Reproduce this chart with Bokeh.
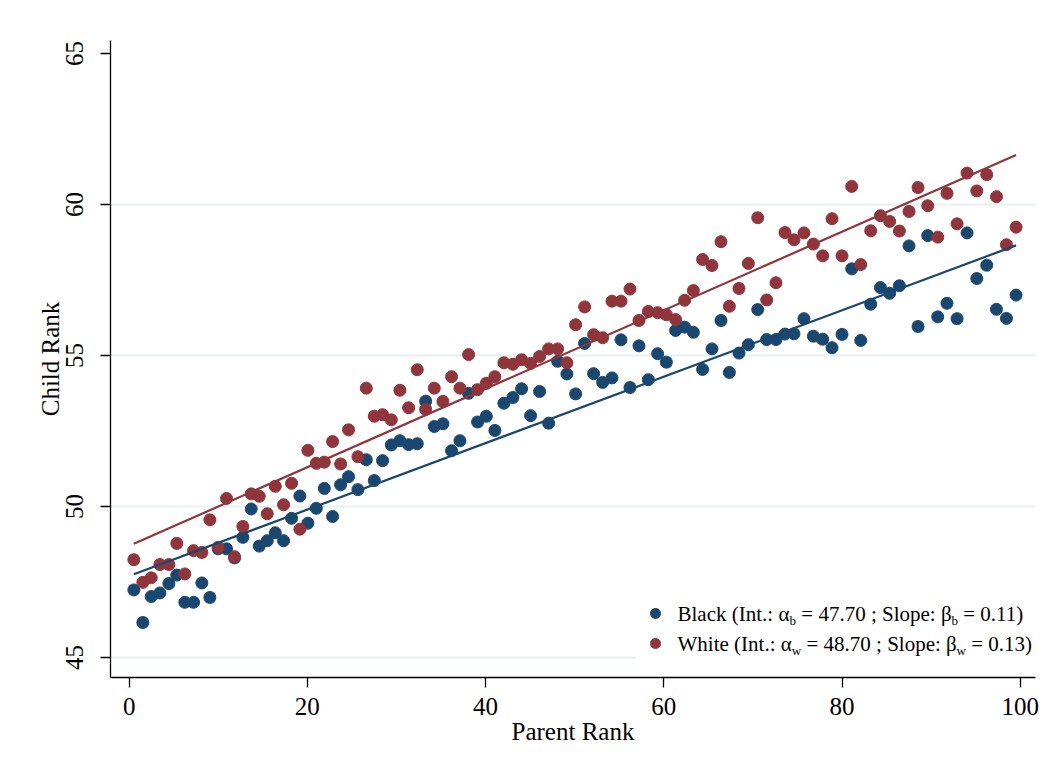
import numpy as np
from bokeh.plotting import figure
from bokeh.models import FixedTicker, Range1d, Label, BoxAnnotation
from bokeh.embed import file_html
from bokeh.resources import INLINE

# Parent rank (x) for each of the 100 bins
parent_rank = [
    0.53, 1.54, 2.48, 3.45, 4.46, 5.35, 6.25, 7.23, 8.16, 9.06,
    10.00, 10.93, 11.83, 12.76, 13.70, 14.60, 15.50, 16.40, 17.33, 18.23,
    19.16, 20.06, 21.00, 21.90, 22.83, 23.73, 24.62, 25.67, 26.61, 27.51,
    28.44, 29.42, 30.38, 31.36, 32.33, 33.27, 34.24, 35.21, 36.18, 37.12,
    38.09, 39.10, 40.08, 41.04, 42.05, 43.06, 44.04, 45.05, 46.06, 47.07,
    48.08, 49.12, 50.10, 51.11, 52.12, 53.13, 54.18, 55.19, 56.20, 57.21,
    58.26, 59.30, 60.28, 61.32, 62.33, 63.31, 64.35, 65.40, 66.41, 67.35,
    68.43, 69.48, 70.53, 71.54, 72.58, 73.59, 74.60, 75.72, 76.78, 77.82,
    78.87, 79.99, 81.08, 82.09, 83.21, 84.30, 85.34, 86.43, 87.51, 88.52,
    89.61, 90.73, 91.77, 92.90, 94.02, 95.11, 96.23, 97.32, 98.44, 99.52,
]

# Mean child rank, Black children
child_black = [
    47.24, 46.16, 47.02, 47.14, 47.45, 47.73, 46.83, 46.83, 47.47, 46.99,
    48.60, 48.60, 48.30, 48.98, 49.92, 48.69, 48.87, 49.13, 48.87, 49.61,
    50.35, 49.45, 49.94, 50.60, 49.67, 50.72, 50.99, 50.56, 51.55, 50.86,
    51.52, 52.04, 52.18, 52.05, 52.08, 53.49, 52.65, 52.74, 51.85, 52.18,
    53.75, 52.80, 52.99, 52.52, 53.42, 53.61, 53.90, 53.01, 53.81, 52.76,
    54.81, 54.39, 53.73, 55.40, 54.40, 54.11, 54.26, 55.52, 53.94, 55.32,
    54.20, 55.06, 54.78, 55.83, 55.94, 55.77, 54.54, 55.22, 56.16, 54.44,
    55.08, 55.36, 56.52, 55.53, 55.53, 55.71, 55.72, 56.22, 55.64, 55.54,
    55.26, 55.70, 57.87, 55.50, 56.70, 57.25, 57.06, 57.31, 58.63, 55.96,
    58.97, 56.28, 56.73, 56.22, 59.06, 57.55, 57.99, 56.53, 56.23, 57.00,
]

# Mean child rank, White children
child_white = [
    48.24, 47.49, 47.64, 48.08, 48.08, 48.78, 47.77, 48.54, 48.48, 49.56,
    48.65, 50.27, 48.34, 49.34, 50.42, 50.34, 49.76, 50.67, 50.06, 50.77,
    49.25, 51.86, 51.43, 51.47, 52.15, 51.41, 52.54, 51.65, 53.92, 52.99,
    53.04, 52.87, 53.85, 53.27, 54.53, 53.22, 53.92, 53.48, 54.30, 53.92,
    55.03, 53.87, 54.08, 54.30, 54.76, 54.71, 54.86, 54.74, 54.97, 55.22,
    55.22, 54.76, 56.02, 56.61, 55.69, 55.59, 56.80, 56.80, 57.20, 56.16,
    56.46, 56.42, 56.35, 56.19, 56.83, 57.15, 58.18, 57.98, 58.77, 56.63,
    57.22, 58.05, 59.56, 56.84, 57.41, 59.07, 58.83, 59.06, 58.69, 58.30,
    59.53, 58.30, 60.60, 58.01, 59.13, 59.63, 59.44, 59.12, 59.77, 60.56,
    59.96, 58.92, 60.37, 59.36, 61.04, 60.45, 60.99, 60.26, 58.67, 59.25,
]

# Linear fits (intercept, slope)
fit_black = (47.70, 0.11)
fit_white = (48.70, 0.13)

x_ticks = [0, 20, 40, 60, 80, 100]
y_ticks = [45, 50, 55, 60, 65]
grid_ticks = [45, 50, 55, 60]

NAVY = "#1a476f"
MAROON = "#90353b"
GRID = "#e8f0f1"
FONT = "Liberation Serif"

W, H = 1057, 772
BL, BR, BT, BB = 110, 22, 40, 95
X0, X1 = -2.09, 101.7
Y0, Y1 = 44.34, 65.43
xppu = (W - BL - BR) / (X1 - X0)
yppu = (H - BT - BB) / (Y1 - Y0)

p = figure(
    width=W, height=H,
    x_range=Range1d(X0, X1), y_range=Range1d(Y0, Y1),
    min_border_left=BL, min_border_right=BR,
    min_border_top=BT, min_border_bottom=BB,
    output_backend="svg", toolbar_location=None,
    background_fill_color="white", border_fill_color="white",
)
p.outline_line_color = None

# grid: horizontal only
p.xgrid.visible = False
p.ygrid.ticker = FixedTicker(ticks=grid_ticks)
p.ygrid.grid_line_color = GRID
p.ygrid.grid_line_width = 2

# axes
p.xaxis.ticker = FixedTicker(ticks=x_ticks)
p.yaxis.ticker = FixedTicker(ticks=y_ticks)
for ax in (p.xaxis[0], p.yaxis[0]):
    ax.axis_line_color = "black"
    ax.axis_line_width = 1.3
    ax.major_tick_line_color = "black"
    ax.major_tick_line_width = 1.3
    ax.major_tick_out = 10
    ax.major_tick_in = 0
    ax.minor_tick_line_color = None
    ax.major_label_text_font = FONT
    ax.major_label_text_font_size = "25px"
    ax.major_label_text_color = "black"
    ax.axis_label_text_font = FONT
    ax.axis_label_text_font_size = "25px"
    ax.axis_label_text_font_style = "normal"
    ax.axis_label_text_color = "black"
p.xaxis.axis_label = "Parent Rank"
p.yaxis.axis_label = "Child Rank"
p.yaxis.major_label_orientation = "vertical"
p.xaxis.major_label_standoff = 10
p.yaxis.major_label_standoff = 17
p.xaxis.axis_label_standoff = 0
p.yaxis.axis_label_standoff = 0

# legend panel background (drawn beneath the points, above the grid)
def dx(px):
    return X0 + (px - BL) / xppu

def dy(py):
    return Y1 - (py - BT) / yppu

box = BoxAnnotation(left=dx(635), right=X1, bottom=Y0, top=dy(588),
                    fill_color="white", fill_alpha=1.0, line_color=None,
                    level="underlay")
p.add_layout(box)

# scatter points
p.scatter(parent_rank, child_black, size=12, color=NAVY, marker="circle")
p.scatter(parent_rank, child_white, size=12, color=MAROON, marker="circle")

# fitted lines over the observed parent-rank span
xs = np.array([min(parent_rank), max(parent_rank)])
for (a, b), c in ((fit_black, NAVY), (fit_white, MAROON)):
    p.line(xs, a + b * xs, line_color=c, line_width=2.2)

# legend entries: text pieces with subscripted symbols
CW = {' ': 250, '(': 333, ')': 333, '.': 250, ':': 278, ';': 278, '=': 564,
      'B': 667, 'l': 278, 'a': 444, 'c': 444, 'k': 500, 'I': 333, 'n': 500,
      't': 278, 'S': 556, 'o': 500, 'p': 500, 'e': 444, 'W': 944, 'h': 500,
      'i': 278, 'b': 500, 'w': 722, 'α': 530, 'β': 500}

def text_width(s, size):
    return sum(CW.get(ch, 500) for ch in s) * size / 1000.0

LEG_SIZE = 21
SUB_SIZE = 13
entries = [
    (NAVY, 613, ["Black (Int.: α", "b", " = 47.70 ; Slope: β", "b", " = 0.11)"]),
    (MAROON, 643, ["White (Int.: α", "w", " = 48.70 ; Slope: β", "w", " = 0.13)"]),
]
for color, py, pieces in entries:
    p.scatter([dx(655)], [dy(py)], size=10, color=color, marker="circle")
    cx = 677.0
    for i, piece in enumerate(pieces):
        sub = i % 2 == 1
        size = SUB_SIZE if sub else LEG_SIZE
        yy = dy(py + 7) if sub else dy(py)
        body = piece.lstrip(" ")
        lead = text_width(piece[: len(piece) - len(body)], size)
        p.add_layout(Label(x=dx(cx + lead), y=yy, text=body,
                           text_font=FONT, text_font_size=f"{size}px",
                           text_color="black", text_baseline="middle",
                           text_align="left"))
        cx += text_width(piece, size)

open("out.html", "w").write(file_html(p, INLINE))
